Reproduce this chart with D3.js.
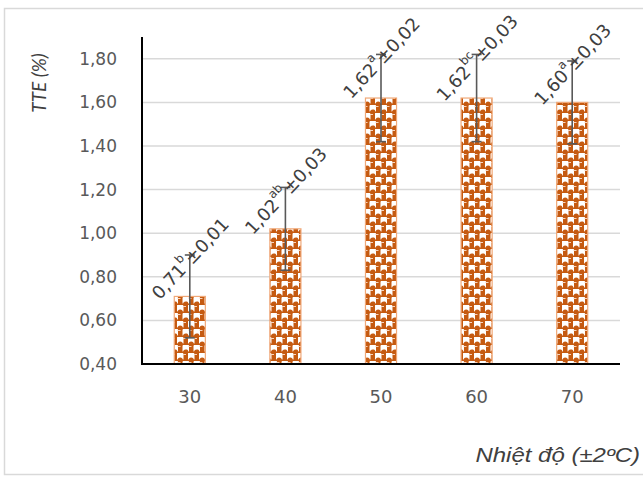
<!DOCTYPE html>
<html>
<head>
<meta charset="utf-8">
<script src="https://cdn.jsdelivr.net/npm/d3@7"></script>
<style>
  html, body { margin: 0; padding: 0; background: #ffffff; }
  svg { display: block; }
</style>
</head>
<body>
<svg id="chart" width="643" height="478"></svg>
<script>
// Temperature groups and TTE means
const temperatures = ["30", "40", "50", "60", "70"];
const tteMeans = [0.71, 1.02, 1.62, 1.62, 1.60];
const sdText = ["0,01", "0,03", "0,02", "0,03", "0,03"];
const letters = ["b", "ab", "a", "bc", "a"];
const meanText = ["0,71", "1,02", "1,62", "1,62", "1,60"];
// Half-length of the drawn error whiskers
const errorBars = [0.19, 0.19, 0.20, 0.20, 0.19];
const yTicks = [0.4, 0.6, 0.8, 1.0, 1.2, 1.4, 1.6, 1.8];

const svg = d3.select("#chart");
const plot = { left: 142, right: 620, top: 37, bottom: 364 };
const tickFont = "'DejaVu Sans', Verdana, sans-serif";

// outer frame
svg.append("rect")
  .attr("x", 4.5).attr("y", 8.5)
  .attr("width", 700).attr("height", 466)
  .attr("fill", "#ffffff")
  .attr("stroke", "#d9d9d9").attr("stroke-width", 1.5);

// bar fill pattern: orange ground, white squares bitten by orange dots
const defs = svg.append("defs");
const pat = defs.append("pattern")
  .attr("id", "barPattern")
  .attr("patternUnits", "userSpaceOnUse")
  .attr("width", 11).attr("height", 16);
pat.append("rect").attr("width", 11).attr("height", 16).attr("fill", "#C55A11");
[[1, 1], [6.5, 9], [-4.5, 9]].forEach(([px, py]) => {
  pat.append("rect").attr("x", px).attr("y", py).attr("width", 6.5).attr("height", 6.5).attr("fill", "#ffffff");
});
[[4.2, 8], [9.7, 16], [-1.3, 16], [9.7, 0], [-1.3, 0]].forEach(([cx, cy]) => {
  pat.append("circle").attr("cx", cx).attr("cy", cy).attr("r", 2.6).attr("fill", "#C55A11");
});
[[7, 2], [1.5, 10], [12.5, 10]].forEach(([px, py]) => {
  pat.append("rect").attr("x", px).attr("y", py).attr("width", 3).attr("height", 1).attr("fill", "#f7d6c0");
});

const x = d3.scaleBand()
  .domain(temperatures)
  .range([plot.left, plot.right])
  .paddingInner(0.675)
  .paddingOuter(0.3375);

const y = d3.scaleLinear()
  .domain([0.4, 1.9])
  .range([plot.bottom, plot.top]);

// gridlines
svg.append("g")
  .selectAll("line")
  .data(yTicks.slice(1))
  .join("line")
  .attr("x1", plot.left).attr("x2", plot.right)
  .attr("y1", d => y(d)).attr("y2", d => y(d))
  .attr("stroke", "#d9d9d9").attr("stroke-width", 1.5);

// y tick labels
const yAxis = d3.axisLeft(y)
  .tickValues(yTicks)
  .tickSize(0)
  .tickPadding(25)
  .tickFormat(d => d3.format(".2f")(d).replace(".", ","));
const gy = svg.append("g")
  .attr("transform", `translate(${plot.left},0)`)
  .call(yAxis);
gy.select(".domain").remove();
gy.selectAll("text")
  .attr("font-family", tickFont)
  .attr("font-size", 17)
  .attr("fill", "#595959");

// bars
const data = temperatures.map((t, i) => ({
  t, v: tteMeans[i], e: errorBars[i], mean: meanText[i], sd: sdText[i], letter: letters[i]
}));

svg.append("g")
  .selectAll("rect")
  .data(data)
  .join("rect")
  .attr("x", d => x(d.t))
  .attr("y", d => y(d.v))
  .attr("width", x.bandwidth())
  .attr("height", d => y(0.4) - y(d.v))
  .attr("fill", "url(#barPattern)")
  .attr("stroke", "#F0A878")
  .attr("stroke-width", 1.2);

// error bars
const eb = svg.append("g")
  .attr("stroke", "#595959")
  .attr("stroke-width", 1.6);
const cx = d => x(d.t) + x.bandwidth() / 2;
eb.selectAll("line.v")
  .data(data)
  .join("line")
  .attr("class", "v")
  .attr("x1", cx).attr("x2", cx)
  .attr("y1", d => y(d.v + d.e))
  .attr("y2", d => y(d.v - d.e));
eb.selectAll("line.top")
  .data(data)
  .join("line")
  .attr("class", "top")
  .attr("x1", d => cx(d) - 5).attr("x2", d => cx(d) + 5)
  .attr("y1", d => y(d.v + d.e)).attr("y2", d => y(d.v + d.e));
eb.selectAll("line.bot")
  .data(data)
  .join("line")
  .attr("class", "bot")
  .attr("x1", d => cx(d) - 5).attr("x2", d => cx(d) + 5)
  .attr("y1", d => y(d.v - d.e)).attr("y2", d => y(d.v - d.e));

// axis lines
svg.append("line")
  .attr("x1", plot.left).attr("x2", plot.left)
  .attr("y1", plot.top).attr("y2", plot.bottom + 1)
  .attr("stroke", "#000000").attr("stroke-width", 2);
svg.append("line")
  .attr("x1", plot.left - 1).attr("x2", plot.right)
  .attr("y1", plot.bottom).attr("y2", plot.bottom)
  .attr("stroke", "#000000").attr("stroke-width", 2);

// x tick labels
const xAxis = d3.axisBottom(x).tickSize(0).tickPadding(26);
const gx = svg.append("g")
  .attr("transform", `translate(0,${plot.bottom})`)
  .call(xAxis);
gx.select(".domain").remove();
gx.selectAll("text")
  .attr("font-family", tickFont)
  .attr("font-size", 18)
  .attr("fill", "#595959");

// rotated value labels
const labels = svg.append("g")
  .selectAll("text")
  .data(data)
  .join("text")
  .attr("transform", d => `translate(${cx(d)},${y(d.v + d.e) + 3}) rotate(-47)`)
  .attr("text-anchor", "middle")
  .attr("dominant-baseline", "central")
  .attr("font-family", tickFont)
  .attr("font-size", 18)
  .attr("fill", "#404040");
labels.append("tspan").text(d => d.mean);
labels.append("tspan")
  .attr("font-size", 12)
  .attr("dy", -7)
  .text(d => d.letter);
labels.append("tspan")
  .attr("dy", 7)
  .text(d => "±" + d.sd);

// axis titles
svg.append("text")
  .attr("transform", "translate(46,83) rotate(-90)")
  .attr("text-anchor", "middle")
  .attr("font-family", "Lato, 'Open Sans', sans-serif")
  .attr("font-style", "italic")
  .attr("font-size", 19)
  .attr("fill", "#404040")
  .text("TTE (%)");

svg.append("text")
  .attr("transform", "translate(640,462) scale(1.2,1)")
  .attr("text-anchor", "end")
  .attr("font-family", "'Liberation Sans', Arial, sans-serif")
  .attr("font-style", "italic")
  .attr("font-size", 20)
  .attr("fill", "#404040")
  .text("Nhiệt độ (±2ºC)");
</script>
</body>
</html>
